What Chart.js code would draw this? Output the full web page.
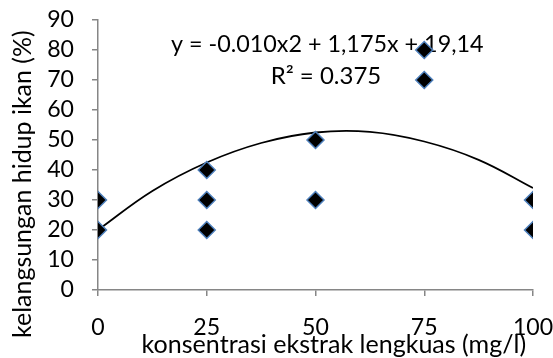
<!DOCTYPE html>
<html><head><meta charset="utf-8">
<script src="https://cdn.jsdelivr.net/npm/chart.js@4.4.1/dist/chart.umd.min.js"></script>
<style>html,body{margin:0;padding:0;background:#fff;overflow:hidden}#wrap{width:553px;height:358px;position:relative}</style>
</head><body><div id="wrap"><canvas id="c" width="553" height="358"></canvas></div>
<script>
// ---- data ----
const concentration = [0, 0, 25, 25, 25, 50, 50, 75, 75, 100, 100];
const survival      = [20, 30, 20, 30, 40, 30, 50, 70, 80, 20, 30];
const trendX = [0, 12.5, 25, 37.5, 50, 62.5, 75, 87.5, 100];
const trendY = [20, 33, 42.5, 49, 52.5, 52.7, 49.5, 43.4, 34];
const xTicks = [0, 25, 50, 75, 100];
const yTicks = [0, 10, 20, 30, 40, 50, 60, 70, 80, 90];
const xTitle = 'konsentrasi ekstrak lengkuas (mg/l)';
const yTitle = 'kelangsungan hidup ikan (%)';
const eqLine1 = 'y = -0.010x2 + 1,175x + 19,14';
const eqLine2 = 'R² = 0.375';

const FAMILY = 'Lato, "Open Sans", sans-serif';
const mc = document.createElement('canvas').getContext('2d');
function ink(text, size) { mc.font = size + 'px ' + FAMILY; return mc.measureText(text); }
function fit(text, target) { const m = ink(text, 100); return 100 * target / (m.actualBoundingBoxLeft + m.actualBoundingBoxRight); }
const tickSize = fit('90', 25);
const yTitleSize = fit(yTitle, 305);
const xTitleSize = fit(xTitle, 382);
const eq1Size = fit(eqLine1, 312);
const eq2Size = fit(eqLine2, 107);

function drawCentered(ctx, text, size, cx, cy, rot) {
  ctx.save();
  ctx.font = size + 'px ' + FAMILY;
  ctx.fillStyle = '#000';
  ctx.textAlign = 'left';
  ctx.textBaseline = 'alphabetic';
  const m = ctx.measureText(text);
  const w = m.actualBoundingBoxLeft + m.actualBoundingBoxRight;
  const h = m.actualBoundingBoxAscent + m.actualBoundingBoxDescent;
  ctx.translate(cx, cy);
  if (rot) ctx.rotate(rot);
  ctx.fillText(text, -w / 2 + m.actualBoundingBoxLeft, -h / 2 + m.actualBoundingBoxAscent);
  ctx.restore();
}

const textPlugin = {
  id: 'texts',
  beforeDatasetsDraw(chart) {
    const ctx = chart.ctx;
    drawCentered(ctx, eqLine1, eq1Size, 327, 45.5);
    drawCentered(ctx, eqLine2, eq2Size, 326.5, 74);
  },
  afterDraw(chart) {
    const ctx = chart.ctx;
    drawCentered(ctx, yTitle, yTitleSize, 23, 184, -Math.PI / 2);
    drawCentered(ctx, xTitle, xTitleSize, 334, 344.5);
  }
};

const AXIS = '#868686';
new Chart(document.getElementById('c'), {
  data: {
    datasets: [
      {
        type: 'scatter',
        data: concentration.map((x, i) => ({ x: x, y: survival[i] })),
        pointStyle: 'rectRot', pointRadius: 8.5, pointHoverRadius: 8.5,
        pointBackgroundColor: '#000', pointBorderColor: '#4F81BD', pointBorderWidth: 1.5,
        order: 0
      },
      {
        type: 'line',
        data: trendX.map((x, i) => ({ x: x, y: trendY[i] })),
        borderColor: '#000', borderWidth: 1.8, pointRadius: 0, tension: 0.4, fill: false,
        order: 1
      }
    ]
  },
  options: {
    responsive: false, animation: false,
    layout: { padding: { top: 20, left: 0, right: 20, bottom: 0 } },
    plugins: { legend: { display: false }, tooltip: { enabled: false } },
    scales: {
      x: {
        type: 'linear', min: 0, max: 100,
        afterBuildTicks: s => { s.ticks = xTicks.map(v => ({ value: v })); },
        afterFit: s => { s.height = 68; s.paddingLeft = 0; s.paddingRight = 0; },
        grid: { drawOnChartArea: false, drawTicks: true, tickLength: 6, color: AXIS, lineWidth: 1.5 },
        border: { color: AXIS, width: 1.5 },
        ticks: { font: { family: FAMILY, size: tickSize }, color: '#000', padding: 18, maxRotation: 0, autoSkip: false }
      },
      y: {
        type: 'linear', min: 0, max: 90,
        afterBuildTicks: s => { s.ticks = yTicks.map(v => ({ value: v })); },
        afterFit: s => { s.width = 98; s.paddingTop = 0; s.paddingBottom = 0; },
        grid: { drawOnChartArea: false, drawTicks: true, tickLength: 6, color: AXIS, lineWidth: 1.5 },
        border: { color: AXIS, width: 1.5 },
        ticks: { font: { family: FAMILY, size: tickSize }, color: '#000', padding: 18, autoSkip: false }
      }
    }
  },
  plugins: [textPlugin]
});
</script>
</body></html>
